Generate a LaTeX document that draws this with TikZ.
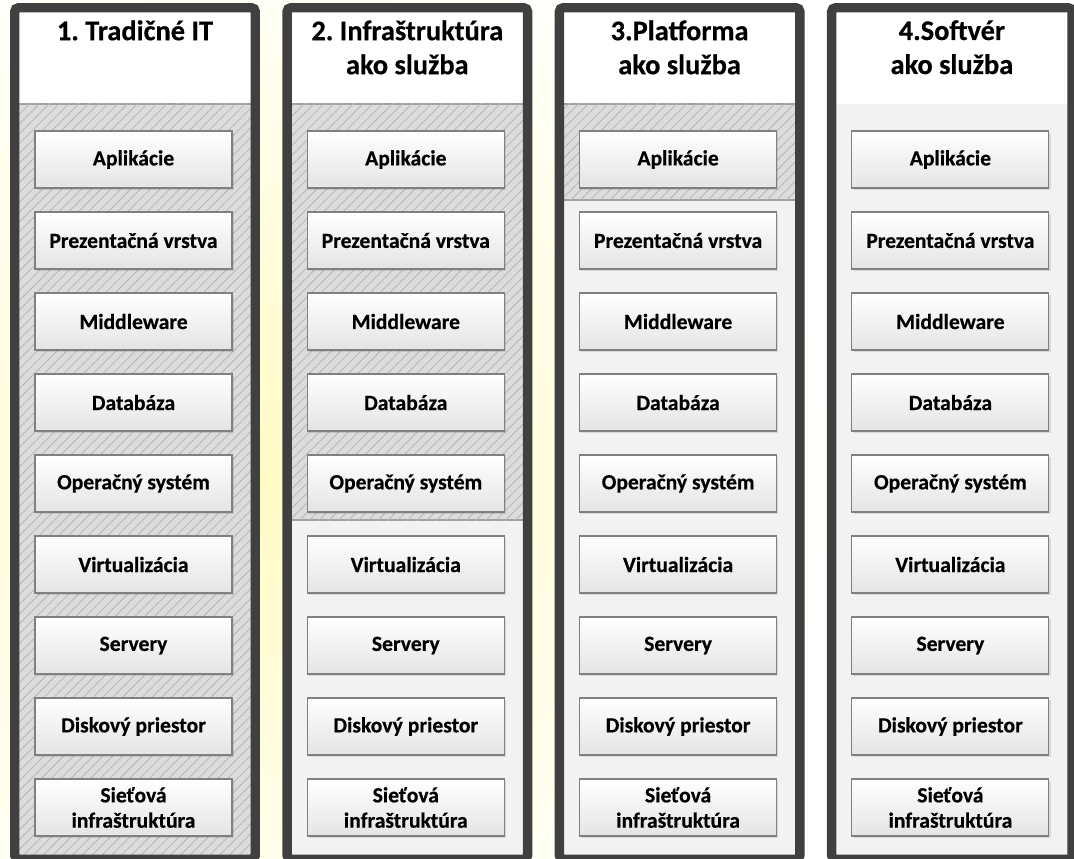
\documentclass[tikz,border=0pt]{standalone}
\usepackage{fontspec}
\setmainfont{Carlito}[BoldFont={Carlito Bold}, BoldFeatures={FakeBold=0.5}]
\usetikzlibrary{patterns.meta,shadows}

\definecolor{frame}{HTML}{404040}
\definecolor{hatchbg}{HTML}{DCDCDC}
\definecolor{hatchln}{HTML}{B6B6B6}
\definecolor{sepline}{HTML}{A0A0A0}
\definecolor{panel}{HTML}{F2F2F2}
\definecolor{glow}{HTML}{FFFBC4}
\definecolor{boxline}{HTML}{808080}
\definecolor{boxbot}{HTML}{E4E4E4}

\tikzset{
  layer/.style={draw=boxline, line width=0.8pt, top color=white, bottom color=boxbot,
    minimum width=147.75pt, minimum height=42.75pt, align=center, inner sep=0pt,
    font=\fontsize{16.2}{19}\selectfont\bfseries,
    drop shadow={shadow xshift=1.2pt, shadow yshift=-1.2pt, fill=black, opacity=0.1}},
  heading/.style={anchor=north, align=center, inner sep=0pt,
    font=\fontsize{21.3}{25.5}\selectfont\bfseries\frenchspacing},
  hatched/.style={fill=hatchbg, draw=sepline, line width=0.8pt,
    postaction={pattern={Lines[angle=45,distance=5.2pt,line width=0.6pt]}, pattern color=hatchln}},
}

\begin{document}
\begin{tikzpicture}[x=0.75pt, y=-0.75pt]

        \useasboundingbox (0,0) rectangle (1074,859);

        % background glow
        \begin{scope}
          \clip (0,0) rectangle (1074,859);
          \fill[white] (0,0) rectangle (1074,859);
          \shade[inner color=glow, outer color=white] (270,480) circle (580);
        \end{scope}

        % the four columns
        \foreach \i/\cut/\title in {0/858/{1. Tradičné IT},
                                    1/520/{2. Infraštruktúra\\ako služba},
                                    2/200/{3.Platforma\\ako služba},
                                    3/104/{4.Softvér\\ako služba}} {
          \pgfmathsetmacro\lx{10+272.3*\i}
          \fill[white] (\lx+5,8) rectangle (\lx+245,104);
          \fill[panel] (\lx+5,104) rectangle (\lx+245,860);
          \ifnum\cut>104
            \path[hatched] (\lx+5,104) rectangle (\lx+245,\cut);
          \fi
          \node[heading] (title\i) at (\lx+125,20) {\title};

          \foreach \name [count=\k from 0] in {Aplikácie, Prezentačná vrstva, Middleware,
                Databáza, Operačný systém, Virtualizácia, Servery, Diskový priestor,
                {Sieťová\\infraštruktúra}}
            \node[layer] (b\i-\k) at (\lx+123.5,159.5+81*\k) {\name};

          \draw[frame, line width=7.1pt, rounded corners=3pt] (\lx+4.75,7.75) rectangle (\lx+245.25,859.25);
        }

      \end{tikzpicture}
\end{document}
